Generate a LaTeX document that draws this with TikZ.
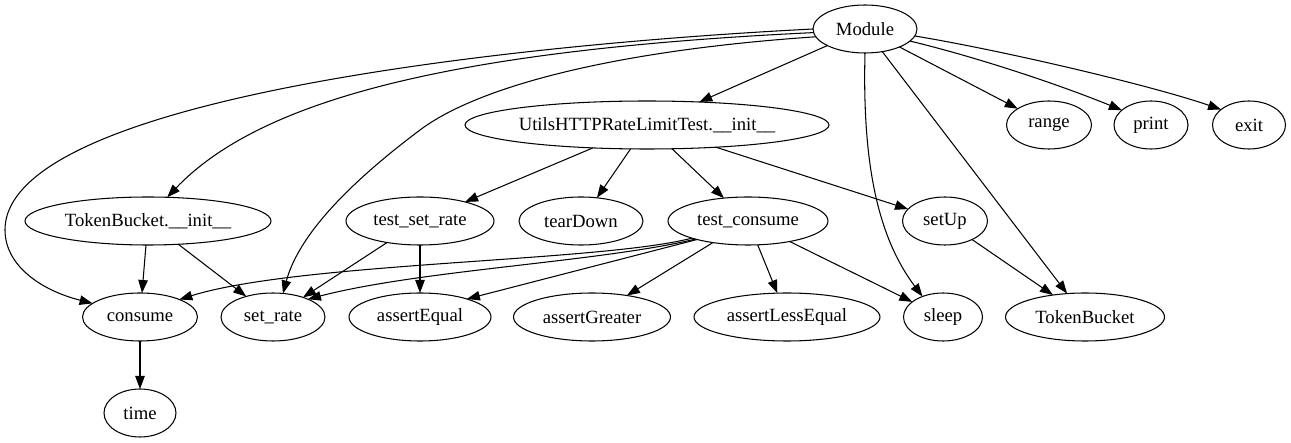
\documentclass[tikz,border=0pt]{standalone}
\usepackage{fontspec}
\setmainfont{Liberation Serif}
\usetikzlibrary{shapes.geometric,arrows.meta}
\begin{document}
\begin{tikzpicture}[x=1pt,y=-1pt,
  nd/.style={ellipse,draw,line width=1.05pt,inner sep=0pt,outer sep=0pt,minimum height=48pt,font=\fontsize{18.67}{22}\selectfont},
  ed/.style={line width=1.05pt,-{Triangle[length=13pt,width=9.5pt]}}]
\useasboundingbox (0,0) rectangle (1291,443);
% row 1
\node[nd,minimum width=104pt] (Module) at (865,29) {Module};
% row 2
\node[nd,minimum width=364pt] (Utils) at (647,125) {UtilsHTTPRateLimitTest.\_\_init\_\_};
\node[nd,minimum width=85pt] (range) at (1049,125) {range};
\node[nd,minimum width=74pt] (print) at (1151,125) {print};
\node[nd,minimum width=73pt] (exit) at (1249,125) {exit};
% row 3
\node[nd,minimum width=246pt] (TBinit) at (148,221) {TokenBucket.\_\_init\_\_};
\node[nd,minimum width=148pt] (tsr) at (420,221) {test\_set\_rate};
\node[nd,minimum width=124pt] (tearDown) at (581,221) {tearDown};
\node[nd,minimum width=160pt] (tc) at (748,221) {test\_consume};
\node[nd,minimum width=85pt] (setUp) at (945,221) {setUp};
% row 4
\node[nd,minimum width=115pt] (consume) at (140,317) {consume};
\node[nd,minimum width=104pt] (setrate) at (273,317) {set\_rate};
\node[nd,minimum width=142pt] (aEq) at (420,317) {assertEqual};
\node[nd,minimum width=157pt] (aGr) at (592,317) {assertGreater};
\node[nd,minimum width=186pt] (aLE) at (787,317) {assertLessEqual};
\node[nd,minimum width=79pt] (sleep) at (943,317) {sleep};
\node[nd,minimum width=159pt] (TB) at (1085,317) {TokenBucket};
% row 5
\node[nd,minimum width=72pt] (time) at (140,413) {time};

\coordinate (cL) at (5,230);
\coordinate (cS) at (420,130);

% edges from Module
\draw[ed] (Module) -- (Utils);
\draw[ed] (Module) -- (TB);
\draw[ed] (Module) -- (range);
\draw[ed] (Module.-15) .. controls (980,58) and (1060,85) .. (print.153);
\draw[ed] (Module.-8) .. controls (1000,50) and (1150,85) .. (exit.151);
\draw[ed] (Module.-90) .. controls (862,170) and (880,240) .. (sleep.135);
\draw[ed] (Module.184) .. controls (450,50) and (260,100) .. (TBinit.51);
\draw[ed] (Module.180) .. controls (500,45) and (5,100) .. (cL) .. controls (5,265) and (40,290) .. (consume.164);
\draw[ed] (Module.189) .. controls (620,50) and (480,85) .. (cS) .. controls (360,175) and (300,230) .. (setrate.67);
% edges from UtilsHTTPRateLimitTest.__init__
\draw[ed] (Utils) -- (tsr);
\draw[ed] (Utils) -- (tearDown);
\draw[ed] (Utils) -- (tc);
\draw[ed] (Utils) -- (setUp);
% TokenBucket.__init__
\draw[ed] (TBinit) -- (consume);
\draw[ed] (TBinit) -- (setrate);
% test_set_rate
\draw[ed] (tsr) -- (setrate);
\draw[ed] (tsr) -- (aEq);
% test_consume
\draw[ed] (tc.197) .. controls (600,262) and (300,262) .. (consume.24);
\draw[ed] (tc.199) .. controls (600,262) and (420,270) .. (setrate.27);
\draw[ed] (tc.200) -- (aEq.21);
\draw[ed] (tc) -- (aGr);
\draw[ed] (tc) -- (aLE);
\draw[ed] (tc) -- (sleep);
% setUp
\draw[ed] (setUp) -- (TB);
% consume
\draw[ed] (consume) -- (time);
\end{tikzpicture}
\end{document}
